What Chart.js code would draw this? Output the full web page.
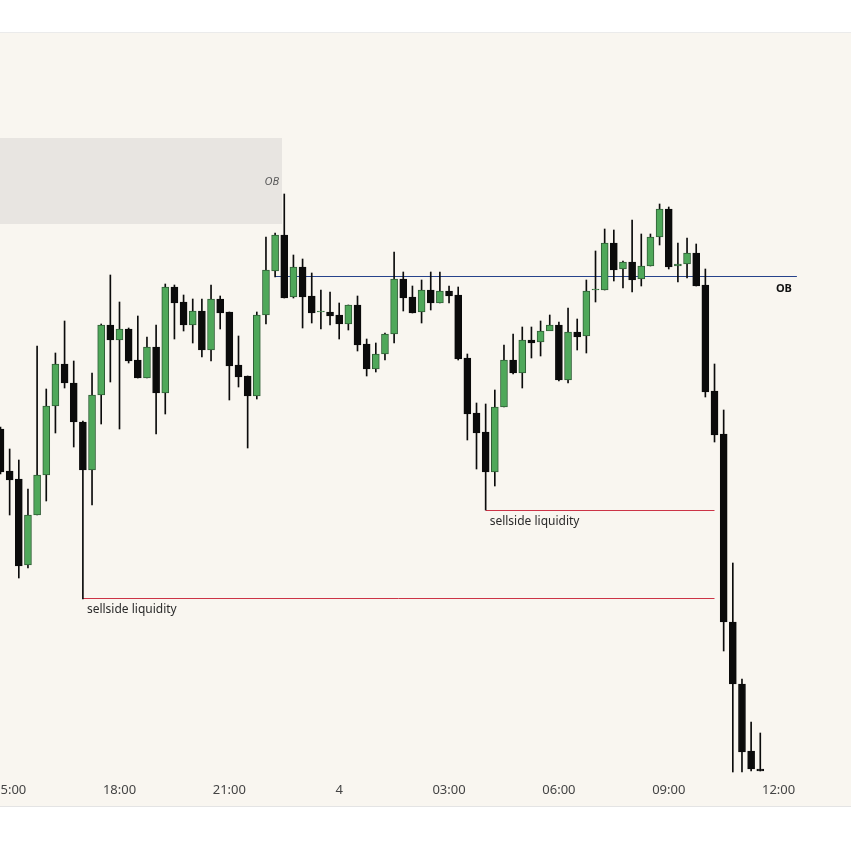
<!DOCTYPE html>
<html>
<head>
<meta charset="utf-8">
<script src="https://cdn.jsdelivr.net/npm/chart.js@4.4.1/dist/chart.umd.min.js"></script>
<style>
  html, body { margin: 0; padding: 0; background: #fff; width: 851px; height: 851px; overflow: hidden; }
  #panel { position: absolute; left: 0; top: 32px; width: 851px; height: 773px; background: #f9f6f0; border-top: 1px solid #ebebeb; border-bottom: 1px solid #e4e4e4; }
  canvas { display: block; }
</style>
</head>
<body>
<div id="panel"><canvas id="grafica" width="851" height="773"></canvas></div>
<script>
    // velas de 15 min, la primera es 14:45 (indice -1), indice 0 = 15:00
    const primerIndice = -1;

    const opens = [
        471, 429, 421, 335, 385, 425, 494, 536, 517, 478, 430, 505,
        575, 560, 571, 540, 522, 553, 507, 613, 598, 575, 589, 550,
        601, 588, 535, 524, 504, 585, 629, 665, 603, 633, 604, 588,
        588, 585, 576, 595, 556, 531, 546, 566, 621, 603, 588, 610,
        597, 609, 605, 542, 487, 468, 428, 493, 540, 527, 560, 558,
        569, 575, 520, 568, 564, 610, 610, 657, 631, 638, 621, 634,
        663, 691, 634, 636, 647, 615, 509, 466, 278, 216, 149, 131
    ];
    const highs = [
        473, 451, 440, 411, 554, 511, 547, 579, 539, 479, 527, 576,
        625, 598, 572, 584, 563, 575, 616, 615, 605, 601, 601, 615,
        604, 588, 564, 524, 588, 663, 667, 706, 645, 641, 627, 610,
        608, 597, 595, 604, 561, 557, 567, 648, 628, 614, 620, 628,
        628, 614, 613, 546, 497, 496, 510, 555, 566, 573, 573, 579,
        585, 578, 592, 581, 620, 649, 671, 670, 639, 680, 666, 666,
        696, 693, 657, 662, 656, 631, 536, 490, 337, 221, 178, 167
    ];
    const lows = [
        426, 385, 322, 332, 385, 399, 467, 512, 453, 301, 395, 476,
        518, 471, 537, 522, 522, 466, 486, 561, 569, 557, 543, 539,
        571, 500, 513, 452, 501, 576, 623, 602, 602, 572, 577, 571,
        575, 561, 570, 549, 524, 528, 540, 557, 589, 587, 577, 590,
        597, 597, 540, 460, 431, 390, 414, 493, 526, 512, 542, 544,
        575, 519, 517, 550, 547, 598, 610, 619, 612, 608, 614, 634,
        655, 631, 618, 622, 614, 503, 458, 249, 128, 128, 129, 129
    ];
    const closes = [
        428, 420, 334, 385, 425, 494, 536, 517, 478, 430, 505, 575,
        560, 571, 539, 522, 553, 507, 613, 597, 575, 589, 550, 601,
        587, 534, 523, 504, 585, 630, 665, 602, 633, 603, 587, 589,
        584, 576, 595, 555, 531, 546, 566, 621, 602, 587, 610, 597,
        609, 604, 541, 486, 467, 428, 493, 540, 527, 560, 557, 569,
        575, 520, 568, 563, 609, 611, 657, 630, 638, 620, 634, 663,
        691, 633, 636, 647, 614, 508, 465, 278, 216, 148, 131, 129
    ];

    // eje de tiempo: una etiqueta cada 12 velas (3 horas)
    const etiquetasTiempo = ['15:00', '18:00', '21:00', '4', '03:00', '06:00', '09:00', '12:00'];
    const cadaVelas = 12;

    // niveles marcados
    const obZonaX = [-3, 29.75];
    const obZonaY = [676, 762];
    const obLineaX = [29, 86];
    const obLineaY = 623.5;
    const liquidezX1 = [8, 77];
    const liquidezY1 = 301.5;
    const liquidezX2 = [52, 77];
    const liquidezY2 = 389.5;

    const verde = '#4fa85a';
    const verdeBorde = '#2f5e36';
    const negro = '#0b0b0b';

    const velas = opens.map((o, k) => k + primerIndice);
    const cuerpos = opens.map((o, k) => ({ x: velas[k], y: [o, closes[k]] }));
    const mechas = lows.map((l, k) => ({ x: velas[k], y: [l, highs[k]] }));
    const alcista = k => closes[k] > opens[k];

    function linea(xs, nivel) {
        return xs.map(v => ({ x: v, y: nivel }));
    }

    const zonas = {
        id: 'zonas',
        beforeDatasetsDraw(chart) {
            const { ctx, chartArea, scales: { x, y } } = chart;
            ctx.save();
            ctx.beginPath();
            ctx.rect(chartArea.left, chartArea.top, chartArea.width, chartArea.height);
            ctx.clip();
            const x0 = x.getPixelForValue(obZonaX[0]);
            const x1 = x.getPixelForValue(obZonaX[1]);
            const y0 = y.getPixelForValue(obZonaY[1]);
            const y1 = y.getPixelForValue(obZonaY[0]);
            ctx.fillStyle = '#e8e5e1';
            ctx.fillRect(x0, y0, x1 - x0, y1 - y0);
            ctx.restore();
        },
        afterDatasetsDraw(chart) {
            const { ctx, scales: { x, y } } = chart;
            ctx.save();

            // OB de la zona
            const x1 = x.getPixelForValue(obZonaX[1]);
            const ym = (y.getPixelForValue(obZonaY[0]) + y.getPixelForValue(obZonaY[1])) / 2;
            ctx.font = 'italic 11px "Noto Sans"';
            ctx.fillStyle = '#5a5a5a';
            ctx.textAlign = 'right';
            ctx.textBaseline = 'middle';
            ctx.fillText('OB', x1 - 3, ym + 1);

            // OB de la linea
            ctx.font = 'bold 11px "Noto Sans"';
            ctx.fillStyle = '#111';
            ctx.fillText('OB', x.getPixelForValue(obLineaX[1]) - 5, y.getPixelForValue(obLineaY) + 12);

            // sellside liquidity
            ctx.font = '12px "Noto Sans"';
            ctx.fillStyle = '#2b2b2b';
            ctx.textAlign = 'left';
            ctx.textBaseline = 'top';
            ctx.fillText('sellside liquidity', x.getPixelForValue(liquidezX1[0]) + 4, y.getPixelForValue(liquidezY1) + 5);
            ctx.fillText('sellside liquidity', x.getPixelForValue(liquidezX2[0]) + 4, y.getPixelForValue(liquidezY2) + 5);
            ctx.restore();
        }
    };

    new Chart(document.getElementById('grafica'), {
        type: 'bar',
        data: {
            datasets: [
                {
                    type: 'line',
                    data: linea(obLineaX, obLineaY),
                    borderColor: '#26428b',
                    borderWidth: 1,
                    pointRadius: 0,
                    order: 5
                },
                {
                    type: 'line',
                    data: linea(liquidezX1, liquidezY1),
                    borderColor: '#cc3346',
                    borderWidth: 1,
                    pointRadius: 0,
                    order: 5
                },
                {
                    type: 'line',
                    data: linea(liquidezX2, liquidezY2),
                    borderColor: '#cc3346',
                    borderWidth: 1,
                    pointRadius: 0,
                    order: 5
                },
                {
                    data: mechas,
                    backgroundColor: negro,
                    barThickness: 1,
                    grouped: false,
                    order: 2
                },
                {
                    data: cuerpos,
                    backgroundColor: c => alcista(c.dataIndex) ? verde : negro,
                    borderColor: c => alcista(c.dataIndex) ? verdeBorde : negro,
                    borderWidth: 1,
                    borderSkipped: false,
                    barThickness: 7,
                    grouped: false,
                    order: 1
                }
            ]
        },
        options: {
            responsive: false,
            animation: false,
            devicePixelRatio: 1,
            layout: { padding: 0 },
            plugins: {
                legend: { display: false },
                tooltip: { enabled: false }
            },
            scales: {
                x: {
                    type: 'linear',
                    min: -1.054,
                    max: 91.91,
                    offset: false,
                    grid: { display: false, drawTicks: false },
                    border: { display: false },
                    ticks: {
                        stepSize: cadaVelas,
                        includeBounds: false,
                        autoSkip: false,
                        maxRotation: 0,
                        padding: 7,
                        color: '#444',
                        font: { family: 'Noto Sans', size: 13 },
                        callback: v => etiquetasTiempo[v / cadaVelas] || ''
                    },
                    afterFit: s => {
                        s.paddingLeft = 0;
                        s.paddingRight = 0;
                        s.height = 31;
                    }
                },
                y: {
                    display: false,
                    min: 125,
                    max: 867
                }
            }
        },
        plugins: [zonas]
    });
</script>
</body>
</html>
